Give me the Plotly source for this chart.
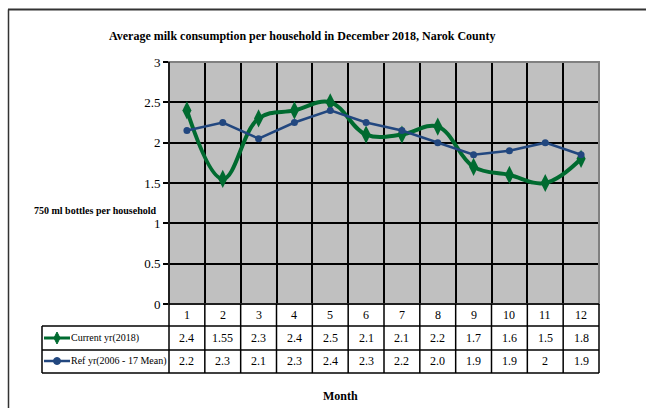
import plotly.graph_objects as go

# ---- data ----
months = list(range(1, 13))
month_labels = ["1", "2", "3", "4", "5", "6", "7", "8", "9", "10", "11", "12"]
current_vals = [2.4, 1.55, 2.3, 2.4, 2.5, 2.1, 2.1, 2.2, 1.7, 1.6, 1.5, 1.8]
ref_vals = [2.15, 2.25, 2.05, 2.25, 2.4, 2.25, 2.15, 2.0, 1.85, 1.9, 2.0, 1.85]
current_labels = ["2.4", "1.55", "2.3", "2.4", "2.5", "2.1", "2.1", "2.2", "1.7", "1.6", "1.5", "1.8"]
ref_labels = ["2.2", "2.3", "2.1", "2.3", "2.4", "2.3", "2.2", "2.0", "1.9", "1.9", "2", "1.9"]
series_names = ["Current yr(2018)", "Ref yr(2006 - 17 Mean)"]
y_ticks = [0, 0.5, 1, 1.5, 2, 2.5, 3]
y_tick_text = ["0", "0.5", "1", "1.5", "2", "2.5", "3"]
title_text = "Average milk consumption per household in December 2018, Narok County"
y_title = "750 ml bottles per household"
x_title = "Month"

# ---- styling / layout ----
W, H = 646, 408
L, R, T, B = 169, 599, 62, 304
FONT = "Liberation Serif, Times New Roman, serif"
GREEN = "#006B30"
BLUE = "#22477F"


def px(x):
    return (x - L) / (R - L)


def py(y):
    return (B - y) / (B - T)


fig = go.Figure()
fig.add_trace(go.Scatter(
    x=months, y=current_vals, mode="lines+markers", name=series_names[0],
    line=dict(color=GREEN, width=4, shape="spline", smoothing=1.1),
    marker=dict(symbol="diamond-tall", size=13, color=GREEN),
))
fig.add_trace(go.Scatter(
    x=months, y=ref_vals, mode="lines+markers", name=series_names[1],
    line=dict(color=BLUE, width=2.5),
    marker=dict(symbol="circle", size=7, color=BLUE),
))

shapes = []
shapes.append(dict(type="rect", xref="paper", yref="paper", x0=0, x1=1, y0=0, y1=1,
                   line=dict(color="#808080", width=2), layer="above"))
shapes.append(dict(type="line", xref="paper", yref="paper", x0=0, x1=0, y0=0, y1=1,
                   line=dict(color="black", width=1.5), layer="above"))
blk = dict(color="black", width=1.5)
for yy, x0 in [(304, L), (326, 42), (350, 42), (373, 42)]:
    shapes.append(dict(type="line", xref="paper", yref="paper", x0=px(x0), x1=1,
                       y0=py(yy), y1=py(yy), line=blk))
shapes.append(dict(type="line", xref="paper", yref="paper", x0=px(42), x1=px(42),
                   y0=py(326), y1=py(373), line=blk))
for xx in [L, R]:
    shapes.append(dict(type="line", xref="paper", yref="paper", x0=px(xx), x1=px(xx),
                       y0=py(304), y1=py(373), line=blk))
for m in months[:-1]:
    shapes.append(dict(type="line", xref="x", yref="paper", x0=m + 0.5, x1=m + 0.5,
                       y0=py(304), y1=py(373), line=blk))
for yy, col, w in [(338, GREEN, 3), (361, BLUE, 2.5)]:
    shapes.append(dict(type="line", xref="paper", yref="paper", x0=px(44), x1=px(70),
                       y0=py(yy), y1=py(yy), line=dict(color=col, width=w)))
shapes.append(dict(type="path", xref="paper", yref="paper", xsizemode="pixel", ysizemode="pixel",
                   xanchor=px(57), yanchor=py(338), path="M 0 6 L 3 0 L 0 -6 L -3 0 Z",
                   fillcolor=GREEN, line=dict(color=GREEN, width=1)))
shapes.append(dict(type="circle", xref="paper", yref="paper", xsizemode="pixel", ysizemode="pixel",
                   xanchor=px(57), yanchor=py(361), x0=-3.5, x1=3.5, y0=-3.5, y1=3.5,
                   fillcolor=BLUE, line=dict(color=BLUE, width=1)))
shapes.append(dict(type="line", xref="paper", yref="paper", x0=px(8), x1=px(646),
                   y0=py(9.5), y1=py(9.5), line=dict(color="#333333", width=2)))
shapes.append(dict(type="line", xref="paper", yref="paper", x0=px(8.5), x1=px(8.5),
                   y0=py(9.5), y1=py(408), line=dict(color="#333333", width=1.5)))

annotations = []
tf = dict(family=FONT, size=12, color="black")
for m, lab, c, r in zip(months, month_labels, current_labels, ref_labels):
    for yy, txt in [(315, lab), (338, c), (361, r)]:
        annotations.append(dict(x=m, xref="x", y=py(yy), yref="paper", text=txt,
                                showarrow=False, font=tf, xanchor="center", yanchor="middle"))
for yy, name in [(338, series_names[0]), (361, series_names[1])]:
    annotations.append(dict(x=px(70), xref="paper", y=py(yy), yref="paper", text=name,
                            showarrow=False, font=dict(family=FONT, size=10, color="black"),
                            xanchor="left", yanchor="middle", xshift=-1))
annotations.append(dict(x=px(302), xref="paper", y=py(36), yref="paper", text="<b>" + title_text + "</b>",
                        showarrow=False, font=dict(family=FONT, size=12, color="black"),
                        xanchor="center", yanchor="middle"))
annotations.append(dict(x=px(158), xref="paper", y=py(210), yref="paper", text="<b>" + y_title + "</b>",
                        showarrow=False, font=dict(family=FONT, size=10, color="black"),
                        xanchor="right", yanchor="middle"))
annotations.append(dict(x=px(340), xref="paper", y=py(396), yref="paper", text="<b>" + x_title + "</b>",
                        showarrow=False, font=dict(family=FONT, size=12, color="black"),
                        xanchor="center", yanchor="middle"))

fig.update_layout(
    width=W, height=H,
    margin=dict(l=L, r=W - R, t=T, b=H - B, pad=0),
    paper_bgcolor="white", plot_bgcolor="#C0C0C0",
    showlegend=False,
    shapes=shapes, annotations=annotations,
    xaxis=dict(range=[0.5, 12.5], tickmode="array", tickvals=[m + 0.5 for m in months[:-1]],
               showticklabels=False, ticks="", showgrid=True, gridcolor="black", gridwidth=1.5,
               zeroline=False, showline=False, fixedrange=True),
    yaxis=dict(range=[0, 3], tickmode="array", tickvals=y_ticks, ticktext=y_tick_text,
               ticks="outside", ticklen=5, tickcolor="black", tickwidth=1.5,
               tickfont=dict(family=FONT, size=13, color="black"),
               showgrid=True, gridcolor="black", gridwidth=1.5, zeroline=False,
               showline=False, fixedrange=True),
)

fig.write_html("out.html", config={"displayModeBar": False},
               post_script="document.body.style.margin='0';document.body.style.overflow='hidden';")
